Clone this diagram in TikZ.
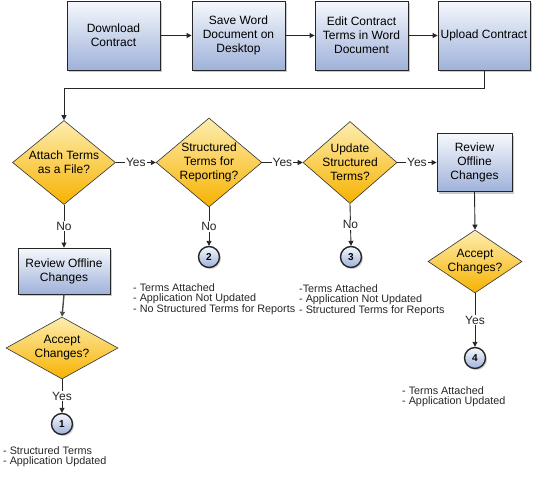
\documentclass[tikz,border=0pt]{standalone}
\usepackage{fontspec}
\setmainfont{Liberation Sans}
\usepackage{tikz}
\usetikzlibrary{shapes.geometric,shadows,arrows.meta}
\tikzset{>={Triangle[length=5pt,width=5pt]}}

\definecolor{boxtop}{HTML}{F6F8FC}
\definecolor{boxbot}{HTML}{9FB2DA}
\definecolor{dectop}{HTML}{FDEDB0}
\definecolor{decbot}{HTML}{F7B200}

\tikzset{
  task/.style={rectangle, draw=black!85, line width=0.9pt, top color=boxtop, bottom color=boxbot,
    drop shadow={shadow xshift=2pt, shadow yshift=-2pt, opacity=0.35, fill=black!60},
    align=center, font=\fontsize{12}{14}\selectfont, inner sep=1pt},
  decision/.style={diamond, aspect=1.2, draw=black!80, line width=0.6pt, top color=dectop, bottom color=decbot,
    align=center, font=\fontsize{12}{14}\selectfont, inner sep=0pt},
  endpt/.style={circle, draw=black!85, line width=1.4pt, top color=boxtop, bottom color=boxbot,
    minimum size=21pt, inner sep=0pt, font=\bfseries\fontsize{10}{12}\selectfont,
    drop shadow={shadow xshift=1.5pt, shadow yshift=-1.5pt, opacity=0.3, fill=black!60}},
  note/.style={anchor=north west, align=left, inner sep=0pt, text=black!85,
    font=\fontsize{10.8}{10.7}\selectfont},
  lbl/.style={fill=white, inner sep=1pt, font=\fontsize{12}{14}\selectfont},
  flow/.style={->, line width=0.9pt, black!85}
}

\begin{document}
\begin{tikzpicture}[x=1pt, y=-1pt]
\useasboundingbox (0,0) rectangle (536,496);

% top row
\node[task, minimum width=93pt, minimum height=69pt] (dl) at (113.5,35.5) {Download\\Contract};
\node[task, minimum width=93pt, minimum height=69pt] (save) at (238.5,35.5) {Save Word\\Document on\\Desktop};
\node[task, minimum width=93pt, minimum height=69pt] (edit) at (361.5,35.5) {Edit Contract\\Terms in Word\\Document};
\node[task, minimum width=92pt, minimum height=69pt] (upload) at (484,35.5) {Upload Contract};

% decisions
\node[decision, minimum width=103pt, minimum height=84pt] (attach) at (64,162.5) {Attach Terms\\as a File?};
\node[decision, minimum width=105pt, minimum height=89pt] (struct) at (209,162.5) {Structured\\Terms for\\Reporting?};
\node[decision, minimum width=94pt, minimum height=82pt, inner xsep=-5pt] (update) at (350,162.5) {Update\\Structured\\Terms?};
\node[task, minimum width=75pt, minimum height=58pt] (reviewR) at (474.5,162.5) {Review\\Offline\\Changes};

\node[task, minimum width=92pt, minimum height=46pt] (reviewL) at (64,271) {Review Offline\\Changes};
\node[decision, minimum width=112pt, minimum height=62pt, aspect=1.8] (acceptL) at (62,348) {Accept\\Changes?};
\node[decision, minimum width=94pt, minimum height=63pt, aspect=1.5] (acceptR) at (475,261.5) {Accept\\Changes?};

% end points
\node[endpt] (c1) at (62,424) {1};
\node[endpt] (c2) at (209,257) {2};
\node[endpt] (c3) at (351,257) {3};
\node[endpt] (c4) at (475,358) {4};

% notes
\node[note] (n1) at (3,446) {- Structured Terms\\- Application Updated};
\node[note] (n2) at (133,283) {- Terms Attached\\- Application Not Updated\\- No Structured Terms for Reports};
\node[note] (n3) at (299,284) {-Terms Attached\\- Application Not Updated\\- Structured Terms for Reports};
\node[note] (n4) at (402,386) {- Terms Attached\\- Application Updated};

% connectors
\draw[flow] (dl) -- (save);
\draw[flow] (save) -- (edit);
\draw[flow] (edit) -- (upload);
\draw[flow] (upload.south) -- ++(0,18) -| (attach.north);
\draw[flow] (attach.east) -- node[lbl] {Yes} (struct.west);
\draw[flow] (struct.east) -- node[lbl] {Yes} (update.west);
\draw[flow] (update.east) -- node[lbl] {Yes} (reviewR.west);
\draw[flow] (attach.south) -- node[lbl] {No} (reviewL.north);
\draw[flow] (struct.south) -- node[lbl] {No} (c2.north);
\draw[flow] (update.south) -- node[lbl] {No} (c3.north);
\draw[flow, black!70, line width=1.4pt] (reviewL.south) -- (acceptL.north);
\draw[flow] (acceptL.south) -- node[lbl] {Yes} (c1.north);
\draw[flow] (reviewR.south) -- (acceptR.north);
\draw[flow] (acceptR.south) -- node[lbl] {Yes} (c4.north);
\end{tikzpicture}
\end{document}
